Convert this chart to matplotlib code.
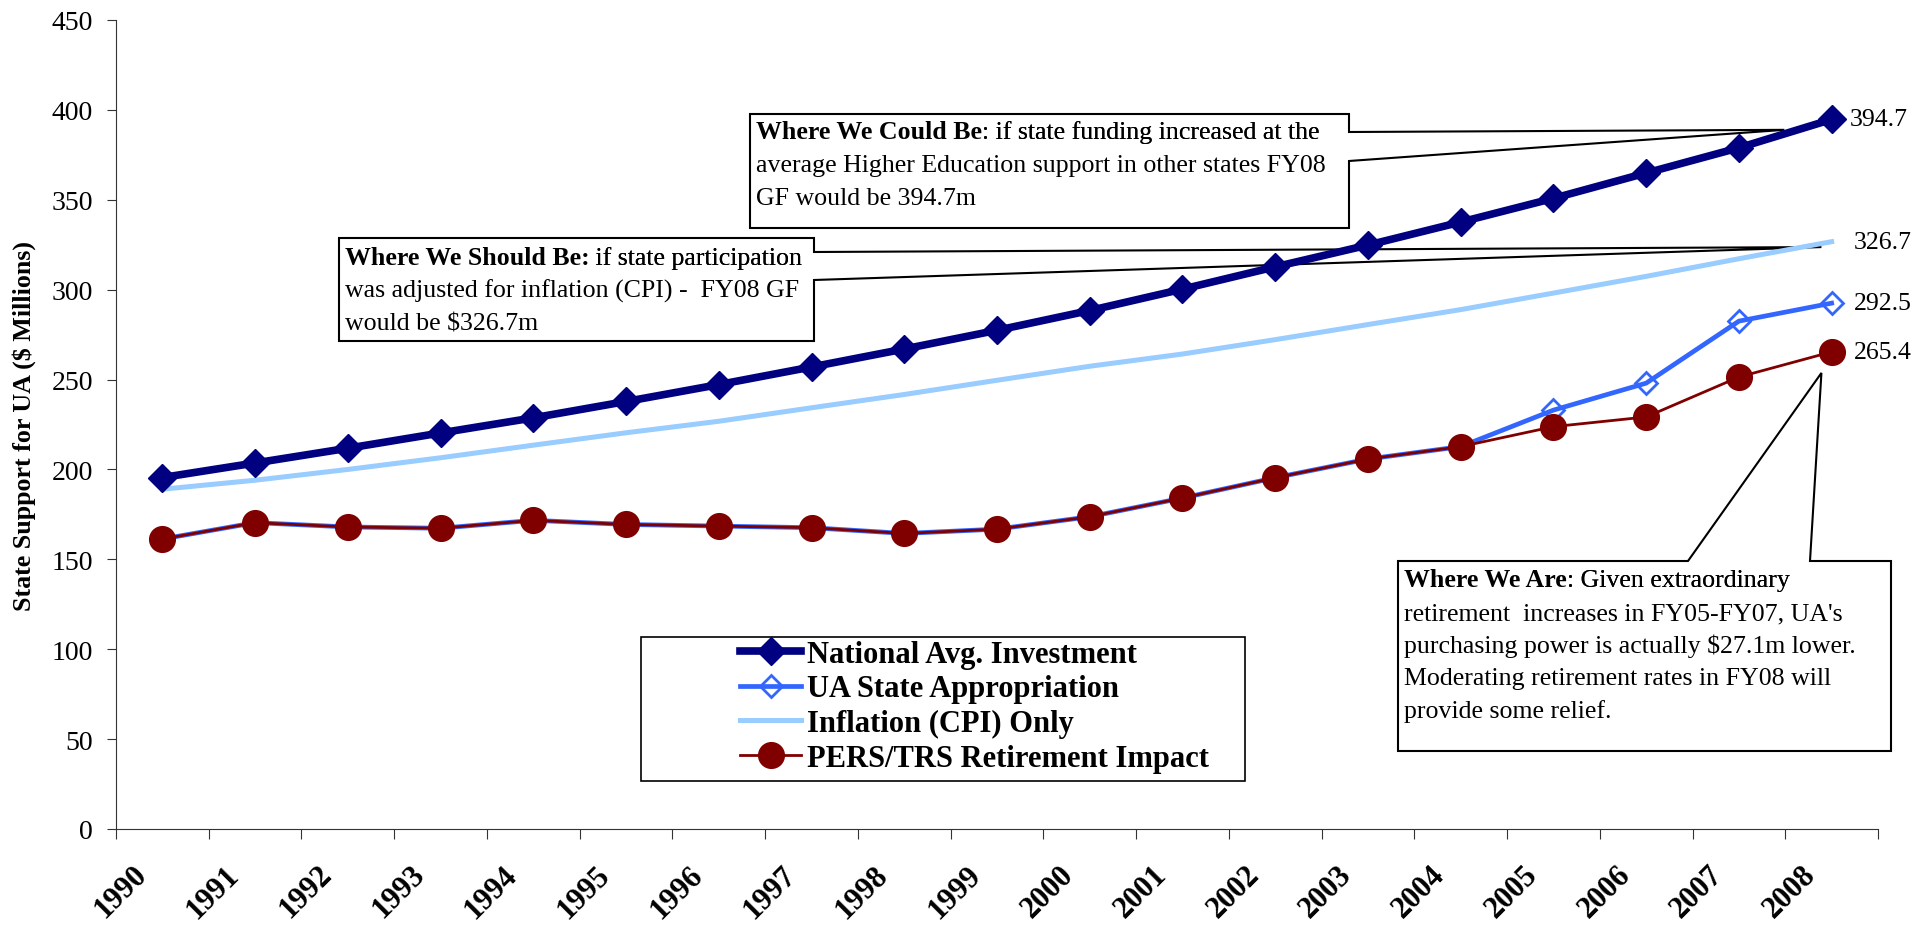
import matplotlib
matplotlib.use("Agg")
import matplotlib.pyplot as plt
import matplotlib.transforms as mtransforms
from matplotlib.patches import Polygon, Rectangle

plt.rcParams['font.family'] = ['Liberation Serif', 'DejaVu Serif']

# data ($ millions)
years = [str(y) for y in range(1990, 2009)]
national = [195.5, 203.6, 211.8, 220.3, 228.7, 237.8, 247.2, 257.0, 267.0, 277.4,
            288.4, 300.3, 312.7, 324.8, 337.6, 350.8, 364.9, 378.9, 394.7]
ua_approp = [161.3, 170.4, 168.0, 167.3, 171.7, 169.4, 168.5, 167.6, 164.4, 166.8,
             173.7, 184.1, 195.4, 205.8, 212.7, 233.0, 248.0, 282.5, 292.5]
cpi_only = [189.0, 194.0, 200.0, 206.5, 213.5, 220.4, 226.8, 234.3, 241.7, 249.6,
            257.4, 264.2, 272.2, 280.6, 288.9, 298.1, 307.4, 317.2, 326.7]
retirement = [161.3, 170.4, 168.0, 167.3, 171.7, 169.4, 168.5, 167.6, 164.4, 166.8,
              173.7, 184.1, 195.4, 205.8, 212.7, 223.8, 229.2, 251.4, 265.4]

W, H = 1917, 928
FS = 18.6


def fp(px, py):
    # pixel position (y measured from the top) -> figure fraction
    return (px / W, 1 - py / H)


fig = plt.figure(figsize=(W / 100, H / 100), dpi=100)
ax = fig.add_axes([116 / W, 1 - 830 / H, (1878 - 116) / W, (830 - 21) / H])
x = list(range(len(years)))

h_nat, = ax.plot(x, national, color='#000080', lw=5.5, marker='D', ms=14, zorder=3,
                 label='National Avg. Investment')
h_ua, = ax.plot(x, ua_approp, color='#3366FF', lw=3.4, marker='D', ms=11.5, mfc='none',
                mew=2, zorder=4, label='UA State Appropriation')
h_cpi, = ax.plot(x, cpi_only, color='#99CCFF', lw=3.6, zorder=2, label='Inflation (CPI) Only')
h_ret, = ax.plot(x, retirement, color='#800000', lw=2, marker='o', ms=18.5, zorder=5,
                 label='PERS/TRS Retirement Impact')

ax.set_xlim(-0.5, len(years) - 0.5)
ax.set_ylim(0, 450)
ax.set_yticks(range(0, 451, 50))
ax.set_xticks([i - 0.5 for i in range(len(years) + 1)])
ax.set_xticklabels([])
ax.set_xticks(x, years, minor=True)
for s in ['top', 'right']:
    ax.spines[s].set_visible(False)
for s in ['left', 'bottom']:
    ax.spines[s].set_color('#333333')
ax.tick_params(axis='y', direction='out', length=6.5, pad=10, labelsize=20, colors='#333333',
               labelcolor='black')
ax.tick_params(axis='x', which='major', direction='out', length=7, colors='#333333')
ax.tick_params(axis='x', which='minor', length=0, pad=22)
shift = mtransforms.ScaledTranslation(-10 / 100, 0, fig.dpi_scale_trans)
for lab in ax.get_xticklabels(minor=True):
    lab.set_rotation(45)
    lab.set_ha('right')
    lab.set_fontsize(22)
    lab.set_fontweight('bold')
    lab.set_transform(lab.get_transform() + shift)

fig.text(*fp(24, 426), 'State Support for UA ($ Millions)', rotation=90, fontsize=18.7,
         fontweight='bold', ha='center', va='center')

# end-of-line value labels
for vals, dx in [(national, 18), (cpi_only, 22), (ua_approp, 22), (retirement, 22)]:
    ax.annotate(f'{vals[-1]:.1f}', xy=(x[-1], vals[-1]), xytext=(dx, 0),
                textcoords='offset pixels', va='center', ha='left', fontsize=18.5)


def callout(box, tip, gap, side):
    # box = (left, top, right, bottom) in pixels, tip in data coords
    l, t, r, b = box
    tx, ty = ax.transData.transform(tip)
    tip_px = (tx, H - ty)
    if side == 'right':
        pts = [(l, t), (r, t), (r, gap[0]), tip_px, (r, gap[1]), (r, b), (l, b)]
    else:
        pts = [(l, t), (gap[0], t), tip_px, (gap[1], t), (r, t), (r, b), (l, b)]
    poly = Polygon([fp(*p) for p in pts], closed=True, transform=fig.transFigure,
                   facecolor='white', edgecolor='black', lw=1.5, zorder=1, clip_on=False)
    ax.add_patch(poly)


def box_text(x0, baselines, head, rest, lines):
    t1 = fig.text(*fp(x0, baselines[0]), head, fontsize=FS, fontweight='bold',
                  ha='left', va='baseline')
    fig.texts.append(ax.annotate(rest, xy=(1, 0), xycoords=t1, fontsize=FS,
                                 ha='left', va='bottom', annotation_clip=False))
    for yb, line in zip(baselines[1:], lines):
        fig.text(*fp(x0, yb), line, fontsize=FS, ha='left', va='baseline')


callout((750, 115, 1349, 229), (17.49, 388.9), (133, 162), 'right')
box_text(756, [139, 172, 205], 'Where We Could Be', ': if state funding increased at the',
         ['average Higher Education support in other states FY08', 'GF would be 394.7m'])

callout((339, 239, 814, 342), (17.89, 323.7), (253, 281), 'right')
box_text(344.5, [265, 297.5, 330], 'Where We Should Be:', ' if state participation',
         ['was adjusted for inflation (CPI) -  FY08 GF', 'would be $326.7m'])

callout((1398, 562, 1891, 752), (17.89, 253.7), (1688, 1810), 'top')
box_text(1404, [587.5, 620, 652.5, 685, 718], 'Where We Are', ': Given extraordinary',
         ["retirement  increases in FY05-FY07, UA's", 'purchasing power is actually $27.1m lower.',
          'Moderating retirement rates in FY08 will', 'provide some relief.'])

# legend
fig.add_artist(Rectangle(fp(641, 782), (1245 - 641) / W, (782 - 638) / H,
                         transform=fig.transFigure, facecolor='white', edgecolor='black', lw=1.2))
fig.legend([h_nat, h_ua, h_cpi, h_ret], [h.get_label() for h in [h_nat, h_ua, h_cpi, h_ret]],
           loc='upper left', bbox_to_anchor=fp(740, 641), frameon=False, borderpad=0,
           borderaxespad=0, handlelength=2.0, handletextpad=0.2, labelspacing=0.18,
           prop=dict(family='Liberation Serif', weight='bold', size=22))

fig.savefig('out.png', dpi=100)
